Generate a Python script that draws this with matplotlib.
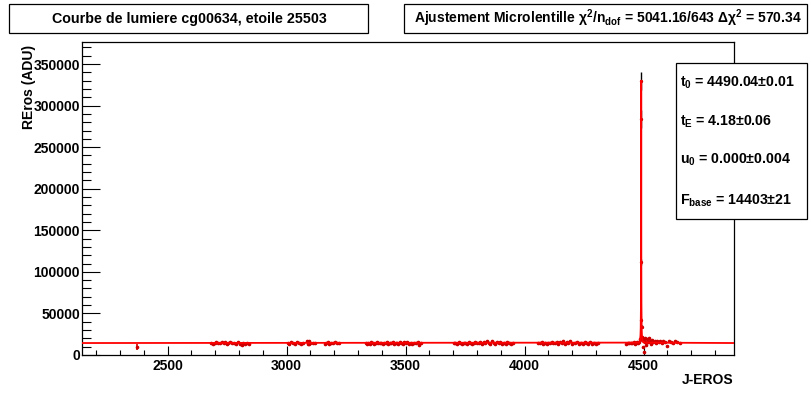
import numpy as np
import matplotlib
matplotlib.use("Agg")
import matplotlib.pyplot as plt
from matplotlib.ticker import MultipleLocator

plt.rcParams['font.family'] = ['Liberation Sans', 'DejaVu Sans']
plt.rcParams['font.weight'] = 'bold'
plt.rcParams['mathtext.fontset'] = 'custom'
plt.rcParams['mathtext.rm'] = 'Liberation Sans:bold'
plt.rcParams['mathtext.it'] = 'Liberation Sans:bold'
plt.rcParams['mathtext.bf'] = 'Liberation Sans:bold'

# light curve seasons (J-EROS days, flux ADU)
tA = [2370]
fA = [9500]

tB = [2682, 2690, 2697, 2705, 2712, 2720, 2728, 2735, 2741, 2748, 2755, 2762,
      2770, 2779, 2786, 2795, 2803, 2811, 2818, 2826, 2834, 2842]
fB = [14100, 13600, 14800, 15200, 13900, 14500, 16000, 14200, 15600, 13400, 14900, 15800,
      14000, 14600, 13800, 15100, 12900, 11500, 14700, 13500, 14200, 13800]

tC = [3005, 3012, 3020, 3028, 3036, 3044, 3052, 3060, 3068, 3085, 3088, 3090, 3093, 3096,
      3100, 3112, 3118, 3160, 3166, 3172, 3180, 3188, 3195, 3203, 3210, 3218]
fC = [14000, 13200, 15100, 14600, 13800, 15300, 14200, 13600, 14900, 16800, 12800, 15900, 13500, 16400,
      14300, 13900, 14700, 13100, 14400, 15200, 13700, 14800, 14100, 15600, 13900, 14500]

tD = [3332, 3338, 3344, 3350, 3356, 3362, 3368, 3374, 3380, 3386, 3392, 3398, 3404, 3410,
      3416, 3422, 3428, 3434, 3440, 3446, 3452, 3458, 3464, 3470, 3476, 3482, 3488, 3494,
      3500, 3507, 3514, 3521, 3528, 3535, 3542, 3550, 3558, 3566]
fD = [14600, 13800, 14900, 13500, 15200, 14100, 13300, 14700, 15400, 13900, 14300, 15000, 13600, 14800,
      14100, 15300, 13700, 14500, 14000, 15600, 13400, 14900, 14200, 13800, 15500, 14600, 13200, 15800,
      14300, 16100, 13500, 14700, 12800, 14400, 13900, 15100, 12600, 14200]

tE = [3702, 3709, 3716, 3723, 3730, 3737, 3744, 3751, 3758, 3765, 3772, 3779, 3786, 3793,
      3800, 3807, 3814, 3821, 3828, 3835, 3842, 3849, 3856, 3863, 3870, 3877, 3884, 3891,
      3898, 3905, 3912, 3920, 3928, 3936, 3944, 3952]
fE = [14000, 14800, 13700, 15100, 14300, 13600, 15000, 14400, 13800, 15600, 14100, 13500, 14900, 15300,
      13900, 14700, 16200, 13700, 15800, 14200, 17300, 14600, 13800, 16400, 14900, 13400, 15700, 14200,
      16000, 13600, 14800, 13200, 15100, 14000, 12800, 14300]

tF = [4058, 4065, 4072, 4079, 4086, 4093, 4100, 4107, 4114, 4121, 4128, 4135, 4142, 4149,
      4156, 4163, 4170, 4177, 4184, 4191, 4198, 4212, 4220, 4228, 4236, 4244, 4252, 4260,
      4268, 4276, 4284, 4292, 4300, 4308]
fF = [14800, 14100, 15300, 13600, 14500, 13200, 15000, 14300, 15700, 13900, 14600, 16200, 13800, 15400,
      14400, 16600, 13500, 15200, 14000, 16900, 13700, 14200, 15600, 12900, 14800, 13300, 15900, 14100,
      13000, 15200, 13600, 14900, 12700, 14300]

tG = [4428, 4434, 4440, 4446, 4452, 4458, 4463, 4468, 4472, 4476, 4480, 4484]
fG = [13600, 14500, 13900, 14800, 14200, 15100, 13700, 14600, 15300, 14900, 16200, 19500]

# points on the spike
tP = [4489.9, 4490.2, 4490.6, 4491.2, 4491.5, 4492.5]
fP = [329500, 284000, 112000, 42000, 34000, 18000]
eP = [11000, 11000, 4000, 2000, 2000, 1500]

tH = [4494, 4497, 4500, 4502, 4505, 4508, 4511, 4514, 4518, 4522, 4526, 4530, 4535, 4540,
      4546, 4552, 4558, 4564, 4570, 4576, 4582, 4590, 4598, 4606, 4614, 4622, 4630, 4640, 4652]
fH = [21500, 9800, 4000, 19800, 16200, 21000, 12500, 18800, 15200, 20100, 16900, 13300, 18200, 15700,
      17100, 14600, 16300, 15900, 17000, 14100, 16500, 15400, 10500, 17400, 15900, 14500, 16700, 15200, 14300]

# fitted microlensing curve
fit_t = [2140, 4480, 4483, 4485, 4487, 4488, 4489, 4489.5, 4489.8, 4490.04,
         4490.3, 4490.5, 4491, 4492, 4493, 4495, 4497, 4500, 4880]
fit_f = [14403, 14900, 16000, 17700, 23700, 32600, 61500, 121000, 250000, 330000,
         250000, 121000, 61500, 32600, 23700, 17700, 16000, 14900, 14403]

title = "Courbe de lumiere cg00634, etoile 25503"
fit_title = r"Ajustement Microlentille $\chi^{2}/n_{dof}$ = 5041.16/643 $\Delta\chi^{2}$ = 570.34"
params = [r"$t_{0}$ = 4490.04$\pm$0.01",
          r"$t_{E}$ = 4.18$\pm$0.06",
          r"$u_{0}$ = 0.000$\pm$0.004",
          r"$F_{base}$ = 14403$\pm$21"]

fig = plt.figure(figsize=(8.12, 3.95), dpi=100)
ax = fig.add_axes([82/812, 40/395, 652/812, 313/395])

t_all = tA + tB + tC + tD + tE + tF + tG + tH
f_all = fA + fB + fC + fD + fE + fF + fG + fH
ax.errorbar(t_all, f_all, yerr=900, fmt='o', ms=1.6, color='#cc0000',
            ecolor='#550000', elinewidth=0.5, capsize=0, zorder=2)
ax.errorbar(tA, fA, yerr=3500, fmt='none', ecolor='#cc0000', elinewidth=1.2, zorder=2)
ax.errorbar(tP, fP, yerr=eP, fmt='o', ms=1.4, color='#cc0000',
            ecolor='black', elinewidth=1.0, capsize=0, zorder=1)
ax.plot(fit_t, fit_f, color='red', lw=1.3, zorder=3)

ax.set_xlim(2140, 4880)
ax.set_ylim(0, 376500)
ax.xaxis.set_major_locator(MultipleLocator(500))
ax.xaxis.set_minor_locator(MultipleLocator(100))
ax.yaxis.set_major_locator(MultipleLocator(50000))
ax.yaxis.set_minor_locator(MultipleLocator(10000))
ax.tick_params(axis='y', which='major', direction='in', length=13, width=0.8, pad=1.5, labelsize=10)
ax.tick_params(axis='y', which='minor', direction='in', length=6.5, width=0.8)
ax.tick_params(axis='x', which='major', direction='in', length=6.5, width=0.8, pad=3, labelsize=10)
ax.tick_params(axis='x', which='minor', direction='in', length=3.5, width=0.8)
for lab in ax.get_xticklabels() + ax.get_yticklabels():
    lab.set_fontweight('bold')
for s in ax.spines.values():
    s.set_linewidth(0.9)

fig.text(29/812, 1 - 45/395, "REros (ADU)", rotation=90, ha='center', va='top',
         fontsize=10, fontweight='bold')
fig.text(733/812, 1 - 380/395, "J-EROS", ha='right', va='center',
         fontsize=10, fontweight='bold')

fig.patches.append(plt.Rectangle((9/812, 1 - 33/395), 359/812, 29/395,
                                 transform=fig.transFigure, fc='white', ec='black', lw=0.9))
fig.text(189/812, 1 - 18.5/395, title, ha='center', va='center', fontsize=10.3, fontweight='bold')
fig.patches.append(plt.Rectangle((404/812, 1 - 33/395), 403/812, 29/395,
                                 transform=fig.transFigure, fc='white', ec='black', lw=0.9))
fig.text(608/812, 1 - 18.5/395, fit_title, ha='center', va='center', fontsize=10, fontweight='bold')

fig.patches.append(plt.Rectangle((676/812, 1 - 219/395), 131/812, 156/395,
                                 transform=fig.transFigure, fc='white', ec='black', lw=0.9, zorder=5))
for i, p in enumerate(params):
    y = [83, 122, 160, 201][i]
    fig.text(680/812, 1 - y/395, p, ha='left', va='center', fontsize=10.2,
             fontweight='bold', zorder=6)

fig.savefig("out.png", dpi=100)
